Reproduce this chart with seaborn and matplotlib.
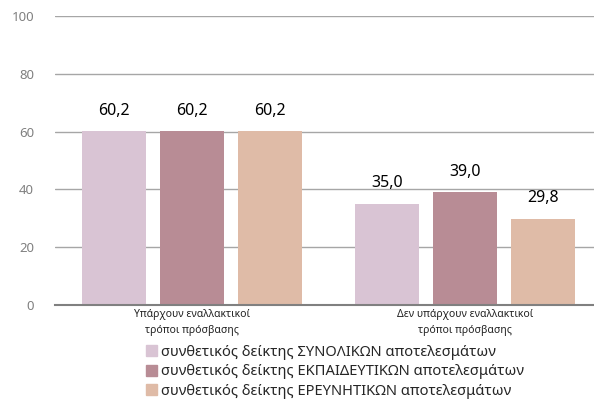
import pandas as pd
import numpy as np
import matplotlib
matplotlib.use('Agg')
import matplotlib.pyplot as plt
import seaborn as sns

# values
categories = ['Υπάρχουν εναλλακτικοί\nτρόποι πρόσβασης', 'Δεν υπάρχουν εναλλακτικοί\nτρόποι πρόσβασης']
series_names = ['συνθετικός δείκτης ΣΥΝΟΛΙΚΩΝ αποτελεσμάτων',
                'συνθετικός δείκτης ΕΚΠΑΙΔΕΥΤΙΚΩΝ αποτελεσμάτων',
                'συνθετικός δείκτης ΕΡΕΥΝΗΤΙΚΩΝ αποτελεσμάτων']
total_vals = [60.2, 35.0]
edu_vals = [60.2, 39.0]
research_vals = [60.2, 29.8]
colors = ['#d9c4d4', '#b88c95', '#dfbba7']
yticks = [0, 20, 40, 60, 80, 100]

df = pd.DataFrame({
    'category': categories * 3,
    'series': [series_names[0]] * 2 + [series_names[1]] * 2 + [series_names[2]] * 2,
    'value': total_vals + edu_vals + research_vals,
})

sns.set_style('white')
plt.rcParams['font.family'] = ['Noto Sans', 'DejaVu Sans']

fig = plt.figure(figsize=(5.94, 3.99), dpi=100)
ax = fig.add_axes([55 / 594, 94 / 399, 547 / 594, 289 / 399])

sns.barplot(data=df, x='category', y='value', hue='series', palette=colors,
            width=0.855, gap=0.18, ax=ax, legend=False, saturation=1, linewidth=0)

# value labels with comma decimal
for cont in ax.containers:
    ax.bar_label(cont, labels=[f'{b.get_height():.1f}'.replace('.', ',') for b in cont],
                 padding=9, fontsize=11.5, color='black')

ax.set_ylim(0, 100)
ax.set_xlim(-0.5, 1.5)
ax.set_yticks(yticks)
ax.yaxis.grid(True, color='#a6a6a6', linewidth=1)
ax.set_axisbelow(True)
ax.tick_params(axis='y', colors='#808080', labelsize=9.5, length=0, pad=15)
ax.tick_params(axis='x', labelsize=7.5, length=0, pad=3, labelcolor='#222222')
ax.set_xticks([-0.5, 0.5, 1.5], minor=True)
ax.tick_params(axis='x', which='minor', length=3, color='#808080', width=1.2)
for lbl in ax.get_xticklabels():
    lbl.set_linespacing(1.6)

ax.set_xlabel('')
ax.set_ylabel('')
for s in ['top', 'right', 'left']:
    ax.spines[s].set_visible(False)
ax.spines['bottom'].set_color('#808080')
ax.spines['bottom'].set_linewidth(1.5)

handles = [plt.Rectangle((0, 0), 1, 1, color=c) for c in colors]
fig.legend(handles, series_names, loc='upper left', bbox_to_anchor=(146 / 594, 1 - 345 / 399),
           frameon=False, fontsize=10.6, handlelength=0.75, handleheight=0.75,
           handletextpad=0.3, labelspacing=0.3, borderaxespad=0, borderpad=0)

plt.savefig('out.png', dpi=100)
